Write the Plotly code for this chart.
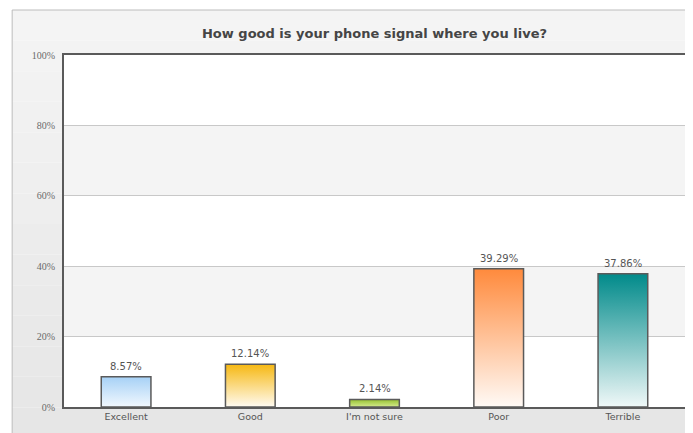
import plotly.graph_objects as go

categories = ["Excellent", "Good", "I'm not sure", "Poor", "Terrible"]
values = [8.57, 12.14, 2.14, 39.29, 37.86]
labels = ["8.57%", "12.14%", "2.14%", "39.29%", "37.86%"]
top_colors = ["#a6d1f6", "#f6b812", "#96c132", "#ff8a3c", "#008a8a"]
bottom_colors = ["#f2f8fe", "#fffbf2", "#d6ec8e", "#fffaf6", "#f0f8f8"]
y_ticks = [0, 20, 40, 60, 80, 100]
y_ticktext = ["0%", "20%", "40%", "60%", "80%", "100%"]

OFF = 8  # page body margin
W, H = 693 - OFF, 433 - OFF
ml, mr, mt, mb = 64 - OFF, 6, 55 - OFF, 26
pw, ph = W - ml - mr, H - mt - mb

positions = list(range(len(categories)))
half = 0.2

fig = go.Figure()
for i, (v, tc, bc) in enumerate(zip(values, top_colors, bottom_colors)):
    x = positions[i]
    fig.add_trace(go.Scatter(
        x=[x - half, x - half, x + half, x + half, x - half],
        y=[0, v, v, 0, 0],
        mode="lines",
        fill="toself",
        fillgradient=dict(type="vertical", colorscale=[[0, bc], [1, tc]]),
        line=dict(color="#5a5a5a", width=1.5),
        hoverinfo="skip",
        showlegend=False,
    ))

annotations = [
    dict(x=positions[i], y=values[i], xref="x", yref="y", text=labels[i],
         showarrow=False, yanchor="bottom", yshift=3,
         font=dict(family="DejaVu Sans", size=10, color="#555555"))
    for i in range(len(categories))
]

# outer frame with subtle vertical gradient
frame_left = (12 - OFF - ml) / pw
frame_top = 1 + (mt - (10 - OFF)) / ph
frame_bottom = -(mb + 5) / ph
n_bands = 14
shapes = []
for k in range(n_bands):
    t = k / (n_bands - 1)
    g = int(round(0xf4 - t * (0xf4 - 0xe6)))
    y1 = frame_top - (frame_top - frame_bottom) * k / n_bands
    y0 = frame_top - (frame_top - frame_bottom) * (k + 1) / n_bands
    shapes.append(dict(type="rect", xref="paper", yref="paper",
                       x0=frame_left, x1=1.3, y0=y0, y1=y1,
                       fillcolor=f"rgb({g},{g},{g})", line=dict(width=0), layer="below"))
shapes.append(dict(type="rect", xref="paper", yref="paper",
                   x0=frame_left, x1=1.3, y0=frame_bottom, y1=frame_top,
                   fillcolor="rgba(0,0,0,0)", line=dict(color="#bcbcbc", width=1), layer="below"))
shapes.append(dict(type="rect", xref="paper", yref="paper", x0=0, x1=1, y0=0, y1=1,
                   fillcolor="#ffffff", line=dict(width=0), layer="below"))
for lo, hi in [(20, 40), (60, 80)]:
    shapes.append(dict(type="rect", xref="paper", yref="y", x0=0, x1=1, y0=lo, y1=hi,
                       fillcolor="#f4f4f4", line=dict(width=0), layer="below"))

fig.update_layout(
    width=W, height=H,
    margin=dict(l=ml, r=mr, t=mt, b=mb),
    paper_bgcolor="#ffffff",
    plot_bgcolor="rgba(0,0,0,0)",
    shapes=shapes,
    annotations=annotations,
    title=dict(text="<b>How good is your phone signal where you live?</b>",
               x=0.5, xref="paper", xanchor="center", y=1 - (33 - OFF) / H, yanchor="middle",
               font=dict(family="DejaVu Sans", size=13, color="#454545")),
    xaxis=dict(range=[-0.5, 4.5], tickvals=positions, ticktext=categories,
               showgrid=False, zeroline=False, showline=True, mirror=True,
               linecolor="#5a5a5a", linewidth=2, ticks="",
               tickfont=dict(family="DejaVu Sans", size=9.5, color="#555555"),
               fixedrange=True),
    yaxis=dict(range=[0, 100], tickvals=y_ticks, ticktext=y_ticktext,
               showgrid=True, gridcolor="#c8c8c8", gridwidth=1, zeroline=False,
               showline=True, mirror=True, linecolor="#5a5a5a", linewidth=2,
               ticks="", ticklabelstandoff=5,
               tickfont=dict(family="Liberation Serif", size=10, color="#6a6a6a"),
               fixedrange=True),
)

fig.write_html("out.html")
